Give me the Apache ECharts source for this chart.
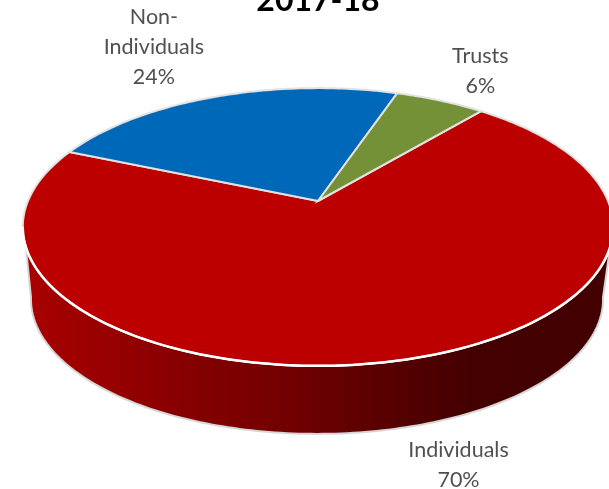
<!DOCTYPE html>
<html>
<head>
<meta charset="utf-8">
<style>html,body{margin:0;padding:0;background:#fff}#c{width:609px;height:489px}</style>
<script src="https://cdn.jsdelivr.net/npm/echarts@6/dist/echarts.min.js"></script>
</head>
<body>
<div id="c"></div>
<script>
const categories = ['Individuals', 'Non-\nIndividuals', 'Trusts'];
const values = [70.3, 23.8, 5.9];
const sliceColors = ['#BC0000', '#0068B8', '#759138'];
const chartTitle = '2017-18';

const firstSliceAngle = 40.0;
const tilt = 0.187;
const topRim = { x: 318, y: 201, a: 290, c: 134 };
const lowRim = { x: 317, y: 274, a: 281, c: 130 };
const labelOffsets = [[58, 105], [-63, -49], [40, -30]];
const total = values.reduce((s, v) => s + v, 0);

function project(rim, deg) {
  const t = deg * Math.PI / 180, u = Math.sin(t), v = Math.cos(t), w = 1 + tilt * v;
  return [rim.x + rim.a * u / w, rim.y - rim.c * v / w];
}
function arc(rim, from, to) {
  const pts = [], n = Math.max(1, Math.ceil(Math.abs(to - from)));
  for (let i = 0; i <= n; i++) pts.push(project(rim, from + (to - from) * i / n));
  return pts;
}
const sideFill = new echarts.graphic.LinearGradient(28, 0, 602, 0, [
  { offset: 0, color: '#A90000' },
  { offset: 0.30, color: '#830000' },
  { offset: 0.47, color: '#700000' },
  { offset: 0.65, color: '#540000' },
  { offset: 0.77, color: '#440000' },
  { offset: 1, color: '#420000' }
], true);

function renderItem(params, api) {
  const i = params.dataIndex;
  const before = values.slice(0, i).reduce((s, v) => s + v, 0);
  const start = firstSliceAngle + before / total * 360;
  const end = start + api.value(1) / total * 360;
  const children = [];
  const frontFrom = Math.max(start, 108.7), frontTo = Math.min(end, 251.3);
  if (frontTo > frontFrom) {
    const low = arc(lowRim, Math.max(start, 100), Math.min(end, 260)).reverse();
    children.push({
      type: 'polygon',
      shape: { points: arc(topRim, frontFrom, frontTo).concat(low) },
      style: { fill: sideFill, stroke: '#D6D6D6', lineWidth: 2 }
    });
  }
  children.push({
    type: 'polygon',
    shape: { points: [[topRim.x, topRim.y]].concat(arc(topRim, start, end)) },
    style: { fill: sliceColors[i], stroke: '#E2E2E2', lineWidth: 2 }
  });
  if (frontTo > frontFrom) {
    children.push({
      type: 'polyline',
      shape: { points: arc(topRim, frontFrom - 8, frontTo + 8) },
      style: { fill: 'none', stroke: '#FFFFFF', lineWidth: 2.5 }
    });
  }
  const mid = project(topRim, (start + end) / 2);
  children.push({
    type: 'text',
    x: mid[0] + labelOffsets[i][0],
    y: mid[1] + labelOffsets[i][1],
    style: {
      text: categories[i] + '\n' + Math.round(api.value(1) / total * 100) + '%',
      fill: '#505050',
      font: '21.5px Lato',
      lineHeight: 30,
      align: 'center',
      verticalAlign: 'middle'
    }
  });
  return { type: 'group', children };
}

const chart = echarts.init(document.getElementById('c'), null, { renderer: 'canvas' });
chart.setOption({
  animation: false,
  backgroundColor: '#fff',
  title: {
    text: chartTitle,
    left: 313,
    top: -20,
    textAlign: 'center',
    textStyle: { fontFamily: 'Lato', fontWeight: 'bold', fontSize: 32, color: '#000' }
  },
  series: [{
    type: 'custom',
    coordinateSystem: 'none',
    renderItem,
    silent: true,
    data: values.map((v, i) => [i, v])
  }]
});
</script>
</body>
</html>
